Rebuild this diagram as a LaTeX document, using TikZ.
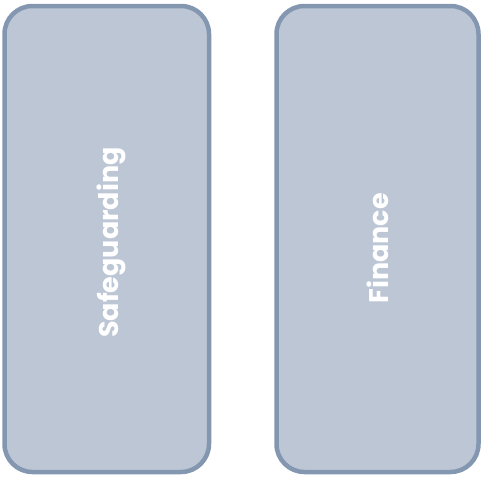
\documentclass[tikz,border=0pt]{standalone}
\usepackage{fontspec}
\setmainfont{Poppins}
\definecolor{boxfill}{RGB}{189,198,213}
\definecolor{boxline}{RGB}{132,151,176}
\begin{document}
\begin{tikzpicture}[x=1pt,y=-1pt,
  panel/.style={draw=boxline,fill=boxfill,line width=4.5pt,rounded corners=28pt,inner sep=0pt},
  label/.style={text=white,font=\fontsize{27}{30}\selectfont\bfseries,rotate=90,inner sep=0pt}]
\useasboundingbox (0,0) rectangle (481,479);
\node[panel,minimum width=204.5pt,minimum height=466pt] (left) at (106.75,239) {};
\node[panel,minimum width=202pt,minimum height=466pt] (right) at (377.5,239) {};
\node[label] (safe) at (111,242.5) {Safeguarding};
\node[label] (fin) at (377.5,248.5) {Finance};
\end{tikzpicture}
\end{document}
